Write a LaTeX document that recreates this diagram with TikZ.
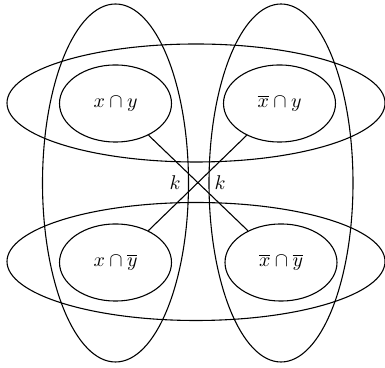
\documentclass[tikz,border=0pt]{standalone}
\usepackage{amsmath,amssymb}
\usetikzlibrary{shapes.geometric}

\begin{document}
\begin{tikzpicture}[x=0.55pt, y=-0.55pt, line width=0.6pt,
	every node/.style={font=\fontsize{11}{13}\selectfont},
	cell/.style={draw, ellipse, inner sep=0pt, minimum width=61.6pt, minimum height=42.4pt}]
	\useasboundingbox (0,0) rectangle (385,368);
	% the four outer sets
	\draw (115.5,183) ellipse [x radius=73, y radius=179];
	\draw (281,183) ellipse [x radius=72, y radius=179];
	\draw (196,103) ellipse [x radius=189, y radius=59];
	\draw (196,261.5) ellipse [x radius=189, y radius=59];
	% intersections
	\node[cell] (xy) at (115.5,103.5) {$x \cap y$};
	\node[cell] (nxy) at (279.5,103.5) {$\overline{x} \cap y$};
	\node[cell] (xny) at (115.5,262.5) {$x \cap \overline{y}$};
	\node[cell] (nxny) at (281,262.5) {$\overline{x} \cap \overline{y}$};
	\draw (xy) -- (nxny);
	\draw (nxy) -- (xny);
	\node (kl) at (175,183) {$k$};
	\node (kr) at (220,183) {$k$};
\end{tikzpicture}
\end{document}
